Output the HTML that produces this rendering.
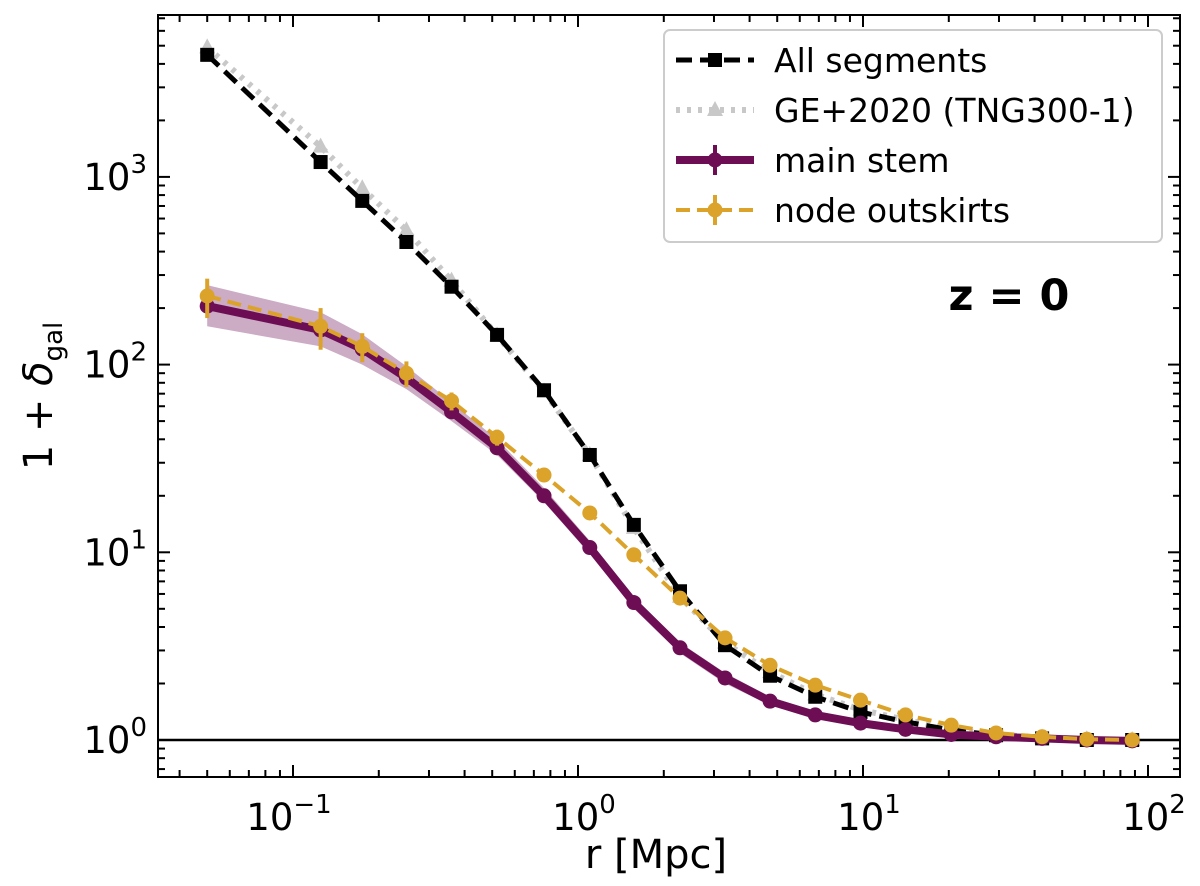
<!DOCTYPE html>
<html><head><meta charset="utf-8"><style>body{margin:0;background:#fff}svg{display:block}text{font-family:"DejaVu Sans","Liberation Sans",sans-serif}</style></head>
<body>
<svg id="c" width="1200" height="886"></svg>
<script>
const rVals=[0.05,0.125,0.175,0.25,0.36,0.52,0.76,1.1,1.57,2.28,3.28,4.72,6.8,9.8,14.1,20.4,29.3,42.5,61,88];
const allSeg=[4470,1200,745,450,260,144,73,33,14,6.2,3.2,2.2,1.7,1.41,1.25,1.13,1.06,1.02,1.0,1.0];
const ge2020=[4900,1450,870,520,280,143,72,33,13.5,5.8,3.3,2.3,1.75,1.45,1.28,1.14,1.07,1.03,1.01,1.0];
const mainStem=[205,153,121,85,56,36,20,10.6,5.4,3.1,2.14,1.61,1.36,1.23,1.14,1.07,1.04,1.02,1.0,0.99];
const mainLo=[160,125,100,74,50,33,18.5,9.8,5.0,2.9,2.0,1.53,1.30,1.18,1.1,1.04,1.01,0.99,0.98,0.97];
const mainHi=[265,190,145,98,63,40,22,11.5,5.8,3.3,2.28,1.70,1.42,1.28,1.18,1.10,1.06,1.04,1.02,1.01];
const nodeOut=[232,160,125,90,64,41,25.8,16.2,9.7,5.7,3.5,2.5,1.96,1.63,1.36,1.2,1.09,1.04,1.01,1.0];
const nodeErr=[55,40,22,14,7,4,2,1,0.5,0.3,0.15,0.1,0.05,0.04,0.03,0.02,0.02,0.01,0.01,0.01];
const xTicks=[-1,0,1,2];const yTicks=[0,1,2,3];
const L=158,R=1180,T=15,B=777;
const X=v=>578+285*Math.log10(v), Y=v=>740-187.7*Math.log10(v);
const svg=document.getElementById('c');const NS='http://www.w3.org/2000/svg';
function mk(t,a,p){const e=document.createElementNS(NS,t);for(const k in a)e.setAttribute(k,a[k]);(p||svg).appendChild(e);return e;}
const clip=mk('clipPath',{id:'cp'});mk('rect',{x:L,y:T,width:R-L,height:B-T},clip);
const g=mk('g',{'clip-path':'url(#cp)'});
let d='M'+rVals.map((r,i)=>X(r)+','+Y(mainHi[i])).join('L')+'L'+rVals.map((r,i)=>X(r)+','+Y(mainLo[i])).reverse().join('L')+'Z';
let e=mk('path',{d,fill:'#6d0e55','fill-opacity':0.35,stroke:'none'},g);

e=mk('line',{x1:L,x2:R,y1:Y(1),y2:Y(1),stroke:'#000','stroke-width':2.5},g);

function line(vals,col,w,dash,name){const p=mk('path',{d:'M'+rVals.map((r,i)=>X(r)+','+Y(vals[i])).join('L'),fill:'none',stroke:col,'stroke-width':w,'stroke-dasharray':dash},g);
}
line(ge2020,'#c8c8c8',6,'4 7','ge2020-line');
rVals.forEach((r,i)=>{const x=X(r),y=Y(ge2020[i]);const m=mk('polygon',{points:`${x},${y-9} ${x-8},${y+6} ${x+8},${y+6}`,fill:'#c8c8c8'},g);
});
line(allSeg,'#000',5,'16 8','all-segments-line');
rVals.forEach((r,i)=>{const m=mk('rect',{x:X(r)-7,y:Y(allSeg[i])-7,width:14,height:14,fill:'#000'},g);
});
line(mainStem,'#6d0e55',8,'','main-stem-line');
rVals.forEach((r,i)=>{const m=mk('circle',{cx:X(r),cy:Y(mainStem[i]),r:7.5,fill:'#6d0e55'},g);
});
line(nodeOut,'#dba32a',4,'14 7','node-outskirts-line');
rVals.forEach((r,i)=>{const x=X(r);const eb=mk('line',{x1:x,x2:x,y1:Y(nodeOut[i]+nodeErr[i]),y2:Y(Math.max(0.5,nodeOut[i]-nodeErr[i])),stroke:'#dba32a','stroke-width':4},g);

const m=mk('circle',{cx:x,cy:Y(nodeOut[i]),r:7.5,fill:'#dba32a'},g);
});
e=mk('rect',{x:L,y:T,width:R-L,height:B-T,fill:'none',stroke:'#000','stroke-width':2});

for(let dd=-2;dd<=2;dd++)for(let k=1;k<10;k++){const x=578+285*(dd+Math.log10(k));if(x<L||x>R)continue;const len=k==1?12:7;
mk('line',{x1:x,x2:x,y1:B,y2:B-len,stroke:'#000','stroke-width':2});mk('line',{x1:x,x2:x,y1:T,y2:T+len,stroke:'#000','stroke-width':2});}
for(let dd=-1;dd<=4;dd++)for(let k=1;k<10;k++){const y=740-187.7*(dd+Math.log10(k));if(y<T||y>B)continue;const len=k==1?12:7;
mk('line',{x1:L,x2:L+len,y1:y,y2:y,stroke:'#000','stroke-width':2});mk('line',{x1:R,x2:R-len,y1:y,y2:y,stroke:'#000','stroke-width':2});}
xTicks.forEach(t=>{const tx=mk('text',{x:X(Math.pow(10,t))+(t<0?-4:6),y:830,'font-size':37,'text-anchor':'middle'});tx.innerHTML=`10<tspan dy="-17" font-size="26">${t<0?'−'+(-t):t}</tspan>`;
});
yTicks.forEach(t=>{const tx=mk('text',{x:147,y:Y(Math.pow(10,t))+13,'font-size':37,'text-anchor':'end'});tx.innerHTML=`10<tspan dy="-17" font-size="26">${t}</tspan>`;
});
e=mk('text',{x:656,y:868,'font-size':40,'text-anchor':'middle'});e.textContent='r [Mpc]';

e=mk('text',{x:0,y:0,'font-size':40,'text-anchor':'middle',transform:'translate(52,396) rotate(-90)'});e.innerHTML='1 + <tspan font-style="italic">δ</tspan><tspan font-size="26" dy="10">gal</tspan>';

e=mk('text',{x:1009,y:310,'font-size':43,'font-weight':'bold','text-anchor':'middle'});e.textContent='z = 0';

const lg=mk('g',{});
mk('rect',{x:664,y:30,width:498,height:212,rx:6,fill:'#fff','fill-opacity':0.85,stroke:'#ccc','stroke-width':2},lg);
const items=[['All segments','#000','16 8',5,'sq'],['GE+2020 (TNG300-1)','#c8c8c8','4 7',6,'tri'],['main stem','#6d0e55','',8,'circ'],['node outskirts','#dba32a','14 7',4,'circ']];
items.forEach((it,i)=>{const y=60+i*50;const ig=mk('g',{},lg);
mk('line',{x1:676,x2:754,y1:y,y2:y,stroke:it[1],'stroke-width':it[3],'stroke-dasharray':it[2]},ig);
if(it[4]=='sq')mk('rect',{x:708,y:y-7,width:14,height:14,fill:it[1]},ig);
else if(it[4]=='tri')mk('polygon',{points:`715,${y-9} 707,${y+6} 723,${y+6}`,fill:it[1]},ig);
else{mk('line',{x1:715,x2:715,y1:y-15,y2:y+15,stroke:it[1],'stroke-width':4},ig);mk('circle',{cx:715,cy:y,r:7.5,fill:it[1]},ig);}
const t=mk('text',{x:774,y:y+12,'font-size':33},ig);t.textContent=it[0];});
</script>
</body></html>
